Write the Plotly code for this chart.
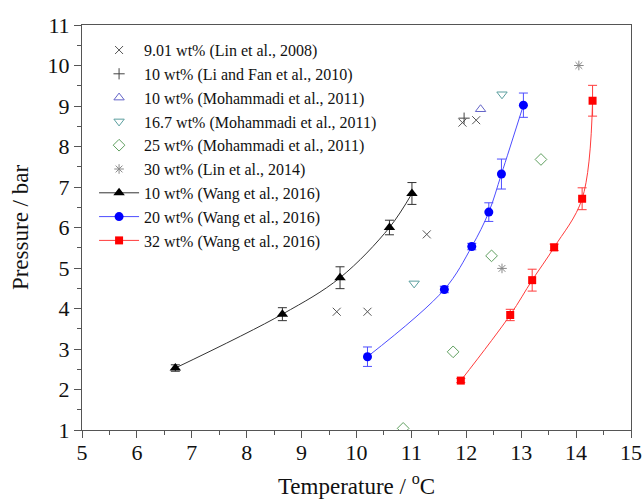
import plotly.graph_objects as go

# ---- data ----
lin2008_T = [9.64, 10.20, 11.28, 11.93, 12.18]
lin2008_P = [3.92, 3.92, 5.83, 8.59, 8.65]

lifan_T = [11.96]
lifan_P = [8.70]

moh10_T = [12.26]
moh10_P = [8.92]

moh167_T = [11.05, 12.65]
moh167_P = [4.62, 9.29]

moh25_T = [10.85, 11.76, 12.46, 13.36]
moh25_P = [1.04, 2.93, 5.30, 7.68]

lin2014_T = [12.65, 14.05]
lin2014_P = [4.99, 10.00]

w10_T = [6.70, 8.65, 9.70, 10.60, 11.01]
w10_P = [2.53, 3.86, 4.76, 6.00, 6.84]
w10_E = [0.08, 0.16, 0.27, 0.18, 0.27]

w20_T = [10.20, 11.60, 12.10, 12.41, 12.64, 13.04]
w20_P = [2.81, 4.47, 5.53, 6.38, 7.32, 9.02]
w20_E = [0.24, 0.08, 0.08, 0.23, 0.37, 0.30]

w32_T = [11.90, 12.80, 13.20, 13.60, 14.11, 14.30]
w32_P = [2.22, 3.84, 4.70, 5.51, 6.71, 9.13]
w32_E = [0.05, 0.14, 0.27, 0.08, 0.27, 0.38]

FONT = "Liberation Serif"

fig = go.Figure()

def open_pts(x, y, name, symbol, color, size=8):
    fig.add_trace(go.Scatter(
        x=x, y=y, mode="markers", name=name,
        marker=dict(symbol=symbol, size=size, color=color,
                    line=dict(color=color, width=1)),
    ))

open_pts(lin2008_T, lin2008_P, "9.01 wt% (Lin et al., 2008)", "x-thin-open", "#555555", 8)
open_pts(lifan_T, lifan_P, "10 wt% (Li and Fan et al., 2010)", "cross-thin-open", "#444444", 8)
open_pts(moh10_T, moh10_P, "10 wt% (Mohammadi et al., 2011)", "triangle-up-open", "#6464c8", 9)
open_pts(moh167_T, moh167_P, "16.7 wt% (Mohammadi et al., 2011)", "triangle-down-open", "#5a9e9e", 9)
open_pts(moh25_T, moh25_P, "25 wt% (Mohammadi et al., 2011)", "diamond-open", "#5f9f5f", 9)
open_pts(lin2014_T, lin2014_P, "30 wt% (Lin et al., 2014)", "asterisk-open", "#888888", 8)

def wang(x, y, e, name, symbol, color, lcolor, size):
    fig.add_trace(go.Scatter(
        x=x, y=y, mode="lines+markers", name=name,
        line=dict(color=lcolor, width=1, shape="spline", smoothing=1.0),
        marker=dict(symbol=symbol, size=size, color=color),
        error_y=dict(type="data", array=e, visible=True, color=lcolor,
                     thickness=1, width=4.5),
    ))

wang(w10_T, w10_P, w10_E, "10 wt% (Wang et al., 2016)", "triangle-up", "#000000", "#333333", 10)
wang(w20_T, w20_P, w20_E, "20 wt% (Wang et al., 2016)", "circle", "#0000ff", "#4d4dff", 9)
wang(w32_T, w32_P, w32_E, "32 wt% (Wang et al., 2016)", "square", "#ff0000", "#ff3b3b", 8)

axis_common = dict(
    showgrid=False, zeroline=False, showline=True, linecolor="#555555",
    linewidth=1, mirror=True, ticks="outside", ticklen=7, tickwidth=1,
    tickcolor="#555555", tickfont=dict(family=FONT, size=22, color="#111111"),
    minor=dict(ticks="outside", ticklen=4, tickwidth=1, tickcolor="#555555", dtick=0.5),
    automargin=False,
)

fig.update_xaxes(range=[5, 15], dtick=1, ticklabelstandoff=-4, **axis_common,
                 title=dict(text="Temperature / <sup>o</sup>C",
                            font=dict(family=FONT, size=23, color="#111111"), standoff=20))
fig.update_yaxes(range=[1, 11], dtick=1, ticklabelstandoff=0, **axis_common,
                 title=dict(text="Pressure / bar",
                            font=dict(family=FONT, size=23, color="#111111"), standoff=12))

fig.update_layout(
    width=643, height=499,
    margin=dict(l=82, r=12, t=25, b=69),
    paper_bgcolor="white", plot_bgcolor="white",
    font=dict(family=FONT, color="#111111"),
    legend=dict(x=0.022, y=0.98, xanchor="left", yanchor="top",
                bgcolor="rgba(0,0,0,0)", borderwidth=0,
                font=dict(family=FONT, size=16, color="#111111"),
                itemwidth=40, tracegroupgap=0),
    showlegend=True,
)

fig.write_html("out.html")
